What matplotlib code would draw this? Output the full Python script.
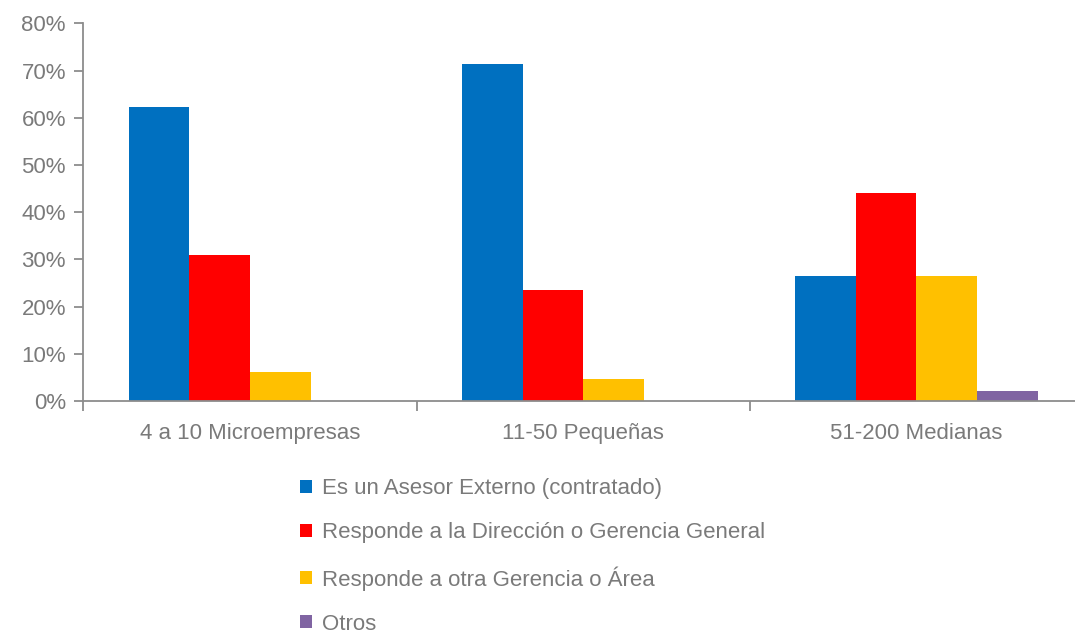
#!/usr/bin/python3

# Grouped bar chart: who the security function reports to, by company size.

import sys

import matplotlib

matplotlib.use("Agg")
import matplotlib.pyplot as plt
from matplotlib.patches import Patch
from matplotlib.ticker import FixedLocator, PercentFormatter
import numpy as np

categories = ["4 a 10 Microempresas", "11-50 Pequeñas", "51-200 Medianas"]
series_names = [
    "Es un Asesor Externo (contratado)",
    "Responde a la Dirección o Gerencia General",
    "Responde a otra Gerencia o Área",
    "Otros",
]
asesor_externo = [62.3, 71.3, 26.5]
direccion_general = [30.9, 23.5, 44.0]
otra_gerencia = [6.1, 4.6, 26.5]
otros = [0.0, 0.0, 2.1]
y_ticks = [0, 10, 20, 30, 40, 50, 60, 70, 80]

COLORS = ["#0070C0", "#FF0000", "#FFC000", "#8064A2"]
AXIS_GRAY = "#8c8c8c"
TEXT_GRAY = "#7a7a7a"
FONT = "Liberation Sans"
FONT_SIZE = 16


def generate_plot(out_path):
    plt.rcParams["font.family"] = [FONT, "DejaVu Sans"]

    fig = plt.figure(figsize=(10.75, 6.37), dpi=100)
    ax = fig.add_axes([0.0775, 0.3705, 0.930, 0.5929])

    values = [asesor_externo, direccion_general, otra_gerencia, otros]
    x = np.arange(len(categories))
    width = 2 / 11
    for i, (name, vals) in enumerate(zip(series_names, values)):
        ax.bar(
            x + (i - 1.5) * width,
            vals,
            width,
            color=COLORS[i],
            label=name,
            linewidth=0,
        )

    ax.set_xlim(-0.5, len(categories) - 0.5)
    ax.set_ylim(0, 80)

    ax.set_yticks(y_ticks)
    ax.yaxis.set_major_formatter(PercentFormatter(decimals=0))

    # boundaries get tick marks, centres get the labels
    ax.xaxis.set_major_locator(FixedLocator(np.arange(len(categories) + 1) - 0.5))
    ax.xaxis.set_minor_locator(FixedLocator(x))
    ax.set_xticklabels([], minor=False)
    ax.set_xticklabels(categories, minor=True)

    for side in ("top", "right"):
        ax.spines[side].set_visible(False)
    for side in ("left", "bottom"):
        ax.spines[side].set_color(AXIS_GRAY)
        ax.spines[side].set_linewidth(1.3)

    ax.tick_params(axis="y", direction="out", length=6.5, width=1.3,
                   color=AXIS_GRAY, labelcolor=TEXT_GRAY,
                   labelsize=FONT_SIZE, pad=6)
    ax.tick_params(axis="x", which="major", direction="out", length=7.5,
                   width=1.3, color=AXIS_GRAY)
    ax.tick_params(axis="x", which="minor", length=0, labelcolor=TEXT_GRAY,
                   labelsize=FONT_SIZE, pad=16)

    handles = [Patch(facecolor=c, edgecolor="none") for c in COLORS]
    fig.legend(
        handles,
        series_names,
        loc="upper left",
        bbox_to_anchor=(0.279, 0.249),
        frameon=False,
        fontsize=FONT_SIZE,
        labelcolor=TEXT_GRAY,
        handlelength=0.54,
        handleheight=0.54,
        handletextpad=0.45,
        labelspacing=1.03,
        borderpad=0,
        borderaxespad=0,
    )

    fig.savefig(out_path, dpi=100)


def main():
    generate_plot("out.png")
    return 0


if __name__ == "__main__":
    sys.exit(main())
